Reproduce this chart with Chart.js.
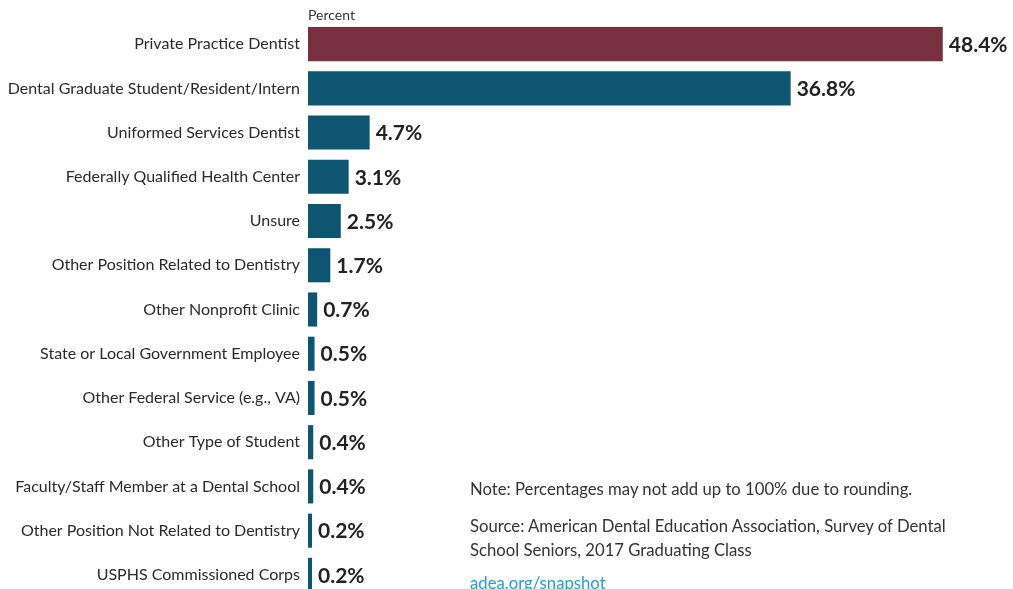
<!DOCTYPE html>
<html>
<head>
<meta charset="utf-8">
<script src="https://cdn.jsdelivr.net/npm/chart.js@4"></script>
<style>
  body { margin: 0; overflow: hidden; background: #fff; font-family: Lato, sans-serif; }
  #wrap { position: relative; width: 1013px; height: 612px; }
  .txt { position: absolute; color: #333; font-size: 16.7px; white-space: nowrap; }
</style>
</head>
<body>
<div id="wrap">
  <canvas id="chart1"></canvas>
  <div class="txt" style="left:308px;top:6px;font-size:14px;">Percent</div>
  <div class="txt" style="left:470px;top:479px;">Note: Percentages may not add up to 100% due to rounding.</div>
  <div class="txt" style="left:470px;top:514px;line-height:24px;">Source: American Dental Education Association, Survey of Dental<br>School Seniors, 2017 Graduating Class</div>
  <div class="txt" style="left:470px;top:573px;color:#2a9bd0;">adea.org/snapshot</div>
</div>
<script>
// ----------------------- DATA -----------------------
const categories = [
  "Private Practice Dentist",
  "Dental Graduate Student/Resident/Intern",
  "Uniformed Services Dentist",
  "Federally Qualified Health Center",
  "Unsure",
  "Other Position Related to Dentistry",
  "Other Nonprofit Clinic",
  "State or Local Government Employee",
  "Other Federal Service (e.g., VA)",
  "Other Type of Student",
  "Faculty/Staff Member at a Dental School",
  "Other Position Not Related to Dentistry",
  "USPHS Commissioned Corps",
];
const percentValues = [48.4, 36.8, 4.7, 3.1, 2.5, 1.7, 0.7, 0.5, 0.5, 0.4, 0.4, 0.2, 0.2];
const valueLabels = ["48.4%", "36.8%", "4.7%", "3.1%", "2.5%", "1.7%", "0.7%", "0.5%", "0.5%", "0.4%", "0.4%", "0.2%", "0.2%"];

const maroon = "#78303F";
const teal = "#0D5570";

// value labels at end of bars
const barValueLabels = {
  id: "barValueLabels",
  afterDatasetsDraw(chart) {
    const { ctx } = chart;
    const meta = chart.getDatasetMeta(0);
    ctx.save();
    ctx.font = "bold 21px Lato, sans-serif";
    ctx.fillStyle = "#222";
    ctx.textBaseline = "middle";
    ctx.textAlign = "left";
    meta.data.forEach((bar, i) => {
      ctx.fillText(valueLabels[i], bar.x + 6, bar.y + 1);
    });
    ctx.restore();
  },
};

const ctx = document.getElementById("chart1");

new Chart(ctx, {
  type: "bar",
  data: {
    labels: categories,
    datasets: [
      {
        data: percentValues,
        backgroundColor: percentValues.map((v, i) => (i === 0 ? maroon : teal)),
        barPercentage: 0.77,
        categoryPercentage: 1,
        minBarLength: 4,
      },
    ],
  },
  options: {
    indexAxis: "y",
    responsive: true,
    maintainAspectRatio: false,
    animation: false,
    layout: { padding: { top: 22, right: 23, bottom: 15, left: 0 } },
    plugins: {
      legend: { display: false },
      tooltip: { enabled: false },
    },
    scales: {
      x: {
        display: false,
        min: 0,
        max: 52,
      },
      y: {
        afterFit(scale) {
          scale.width = 308;
        },
        grid: { display: false },
        border: { display: false },
        ticks: {
          color: "#2a2a2a",
          font: { family: "Lato, sans-serif", size: 16 },
          padding: 0,
        },
      },
    },
  },
  plugins: [barValueLabels],
});
</script>
</body>
</html>
